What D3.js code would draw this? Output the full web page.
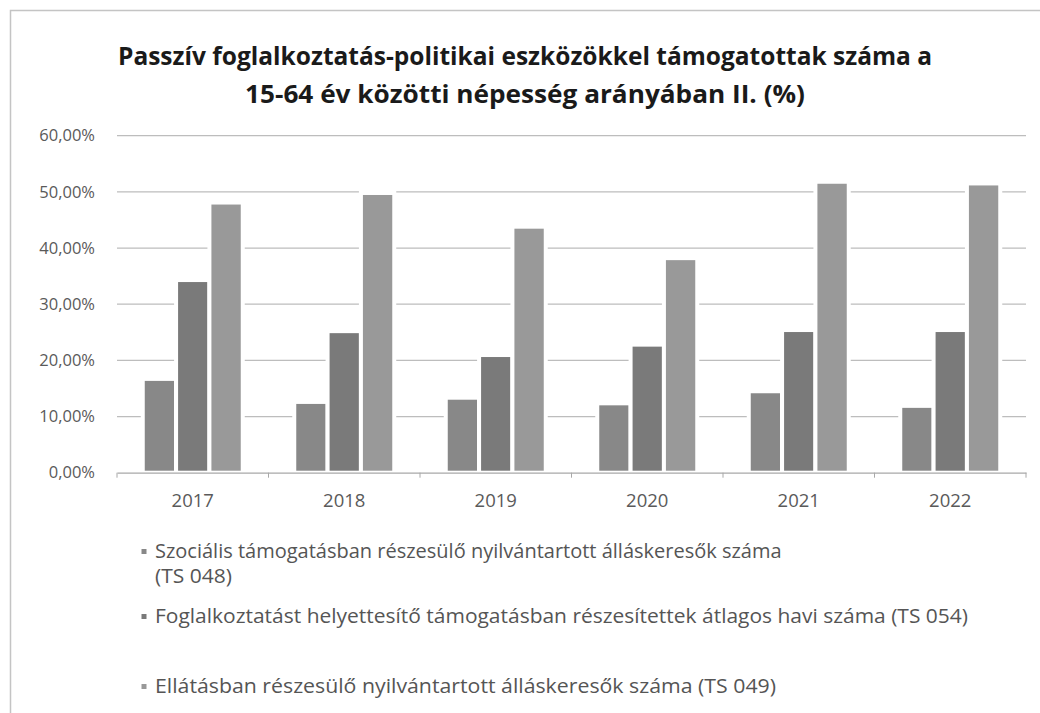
<!DOCTYPE html>
<html>
<head>
<meta charset="utf-8">
<script src="https://cdn.jsdelivr.net/npm/d3@7"></script>
<style>
  body { margin: 0; background: #fff; }
  svg text { font-family: "Open Sans", sans-serif; }
</style>
</head>
<body>
<svg id="chart" width="1040" height="713"></svg>
<script>
// chart values
const years = ["2017", "2018", "2019", "2020", "2021", "2022"];
const seriesNames = [
  "Szociális támogatásban részesülő nyilvántartott álláskeresők száma (TS 048)",
  "Foglalkoztatást helyettesítő támogatásban részesítettek átlagos havi száma (TS 054)",
  "Ellátásban részesülő nyilvántartott álláskeresők száma (TS 049)"
];
const ts048 = [16.7, 12.6, 13.35, 12.35, 14.5, 11.9];
const ts054 = [34.3, 25.2, 20.95, 22.8, 25.4, 25.4];
const ts049 = [48.1, 49.8, 43.8, 38.2, 51.8, 51.5];
const yTicks = [0, 10, 20, 30, 40, 50, 60];
const titleLines = [
  "Passzív foglalkoztatás-politikai eszközökkel támogatottak száma a",
  "15-64 év közötti népesség  arányában II. (%)"
];

const colors = ["#888888", "#7a7a7a", "#999999"];
const series = [ts048, ts054, ts049];

const svg = d3.select("#chart");

// fit a text element to a given width without changing its font size
const fitWidth = (sel, target) => {
  const len = sel.node().getComputedTextLength();
  if (Math.abs(len - target) > 3) {
    sel.attr("textLength", target).attr("lengthAdjust", "spacingAndGlyphs");
  }
};

// outer frame of the chart
svg.append("rect")
  .attr("x", 10.5).attr("y", 10.5)
  .attr("width", 1060).attr("height", 720)
  .attr("fill", "#fff")
  .attr("stroke", "#c4c4c4")
  .attr("stroke-width", 1.5);

// title
const titleWidths = [814, 560];
svg.append("g").selectAll("text")
  .data(titleLines)
  .join("text")
  .attr("x", 525)
  .attr("y", (d, i) => 65 + i * 38)
  .attr("text-anchor", "middle")
  .attr("font-weight", "bold")
  .attr("font-size", 25)
  .attr("fill", "#1a1a1a")
  .text((d) => d)
  .each(function (d, i) {
    fitWidth(d3.select(this), titleWidths[i]);
  });

// plot area
const plotLeft = 117, plotRight = 1026, plotTop = 135.7, plotBottom = 472.7;

const x = d3.scaleBand().domain(years).range([plotLeft, plotRight]).padding(0);
const y = d3.scaleLinear().domain([0, 60]).range([plotBottom, plotTop]);
const xInner = d3.scaleBand()
  .domain(d3.range(series.length))
  .range([0, 100])
  .padding(0);
const groupOffset = (x.bandwidth() - 100) / 2;

// horizontal gridlines
svg.append("g")
  .selectAll("line")
  .data(yTicks.filter((t) => t > 0))
  .join("line")
  .attr("x1", plotLeft).attr("x2", plotRight)
  .attr("y1", (d) => y(d)).attr("y2", (d) => y(d))
  .attr("stroke", "#bdbdbd")
  .attr("stroke-width", 1.2);

// Y axis labels
svg.append("g")
  .attr("transform", `translate(${plotLeft},0)`)
  .call(d3.axisLeft(y).tickValues(yTicks).tickSize(0).tickPadding(22)
    .tickFormat((d) => d3.format(".2f")(d).replace(".", ",") + "%"))
  .call((g) => g.select(".domain").remove())
  .call((g) => g.selectAll("text")
    .attr("font-size", 16.5)
    .attr("fill", "#5a5a5a")
    .style("font-family", "'Open Sans', sans-serif"));

// bars, one group per year
const groups = svg.append("g")
  .selectAll("g")
  .data(years)
  .join("g")
  .attr("transform", (d) => `translate(${x(d) + groupOffset},0)`);

groups.selectAll("rect")
  .data((d, i) => series.map((s, k) => ({ k, value: s[i] })))
  .join("rect")
  .attr("x", (d) => xInner(d.k))
  .attr("y", (d) => y(d.value))
  .attr("width", xInner.bandwidth())
  .attr("height", (d) => plotBottom - y(d.value))
  .attr("fill", (d) => colors[d.k])
  .attr("stroke", "#fff")
  .attr("stroke-width", 4);

// X axis
svg.append("g")
  .attr("transform", `translate(0,${plotBottom})`)
  .call(d3.axisBottom(x).tickSize(0).tickPadding(21))
  .call((g) => g.select(".domain").attr("stroke", "#a8a8a8").attr("stroke-width", 1.2))
  .call((g) => g.selectAll("text")
    .attr("font-size", 18.5)
    .attr("fill", "#5a5a5a")
    .style("font-family", "'Open Sans', sans-serif"));

// tick marks between categories
svg.append("g")
  .selectAll("line")
  .data(years.concat(["end"]))
  .join("line")
  .attr("x1", (d, i) => plotLeft + i * x.bandwidth())
  .attr("x2", (d, i) => plotLeft + i * x.bandwidth())
  .attr("y1", plotBottom).attr("y2", plotBottom + 5)
  .attr("stroke", "#a8a8a8");

// legend
const legendRows = [
  { k: 0, lines: ["Szociális támogatásban részesülő nyilvántartott álláskeresők száma", "(TS 048)"], y: 558, widths: [625, 77] },
  { k: 1, lines: ["Foglalkoztatást helyettesítő támogatásban részesítettek átlagos havi száma (TS 054)"], y: 623, widths: [813] },
  { k: 2, lines: ["Ellátásban részesülő nyilvántartott álláskeresők száma (TS 049)"], y: 693, widths: [621] }
];

const legend = svg.append("g");
legendRows.forEach((row) => {
  legend.append("rect")
    .attr("x", 141.5).attr("y", row.y - 9)
    .attr("width", 5).attr("height", 5)
    .attr("fill", colors[row.k]);
  row.lines.forEach((line, i) => {
    const t = legend.append("text")
      .attr("x", 155)
      .attr("y", row.y + i * 25)
      .attr("font-size", 20)
      .attr("fill", "#555")
      .text(line);
    fitWidth(t, row.widths[i]);
  });
});
</script>
</body>
</html>
